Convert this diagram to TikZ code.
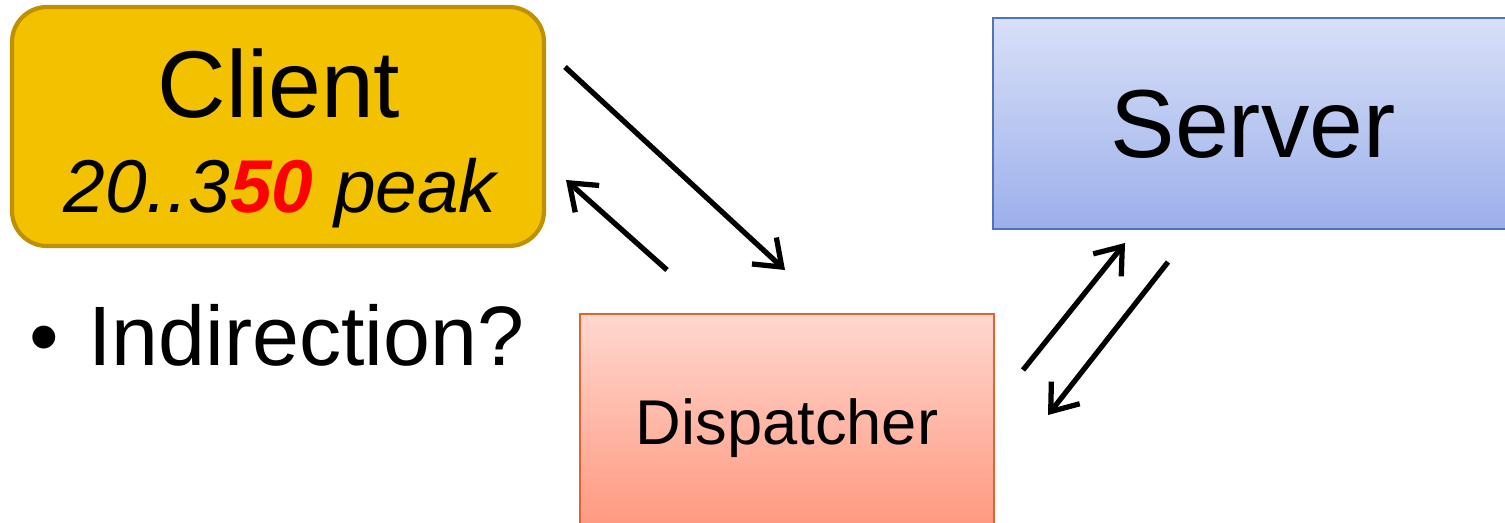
\documentclass[tikz,border=0pt]{standalone}
\usepackage{fontspec}
\setmainfont{Liberation Sans}
\usetikzlibrary{arrows.meta}

\definecolor{clientfill}{RGB}{242,194,0}
\definecolor{clientline}{RGB}{191,144,0}
\definecolor{servertop}{RGB}{216,224,247}
\definecolor{serverbot}{RGB}{156,175,235}
\definecolor{serverline}{RGB}{80,115,190}
\definecolor{disptop}{RGB}{255,215,207}
\definecolor{dispbot}{RGB}{255,152,127}
\definecolor{displine}{RGB}{226,98,50}

\begin{document}
\begin{tikzpicture}[x=1cm,y=-1cm,
  flat box/.style={draw,line width=0.8pt,inner sep=0pt,text depth=0pt},
  msg/.style={line width=1.5pt,-{Straight Barb[length=2.4mm,width=3.6mm]}}]
\useasboundingbox (0,0) rectangle (15.05,5.23);

% the three parties
\node[draw=clientline,fill=clientfill,line width=1.2pt,rounded corners=0.35cm,
  minimum width=5.32cm,minimum height=2.39cm] (client) at (2.78,1.265) {};
\node[anchor=base,font=\fontsize{27}{30}\selectfont] (clientname) at (2.79,1.18) {Client};
\node[anchor=base,font=\fontsize{21.3}{24}\selectfont\itshape] (clientload) at (2.80,2.13)
  {20..3{\bfseries\color{red}50} peak};

\node[flat box,draw=serverline,top color=servertop,bottom color=serverbot,
  minimum width=5.2cm,minimum height=2.11cm,font=\fontsize{27.5}{30}\selectfont]
  (server) at (12.53,1.235) {Server};

\node[flat box,draw=displine,top color=disptop,bottom color=dispbot,
  minimum width=4.14cm,minimum height=2.16cm,font=\fontsize{18}{22}\selectfont]
  (disp) at (7.87,4.22) {Dispatcher};

\node[anchor=base west,inner sep=0pt,font=\fontsize{24}{28}\selectfont]
  (question) at (0.29,3.65) {•\hspace{0.29cm}Indirection?};

% messages
\coordinate (cOut) at (5.65,0.67);
\coordinate (dIn) at (7.85,2.70);
\coordinate (dOut) at (6.67,2.70);
\coordinate (cIn) at (5.66,1.80);
\coordinate (dUp) at (10.23,3.70);
\coordinate (sIn) at (11.25,2.43);
\coordinate (sOut) at (11.68,2.62);
\coordinate (dBack) at (10.48,4.15);

\foreach \a/\b in {cOut/dIn,dOut/cIn,dUp/sIn,sOut/dBack}{%
\draw[msg] (\a) -- (\b);
}

\end{tikzpicture}
\end{document}
